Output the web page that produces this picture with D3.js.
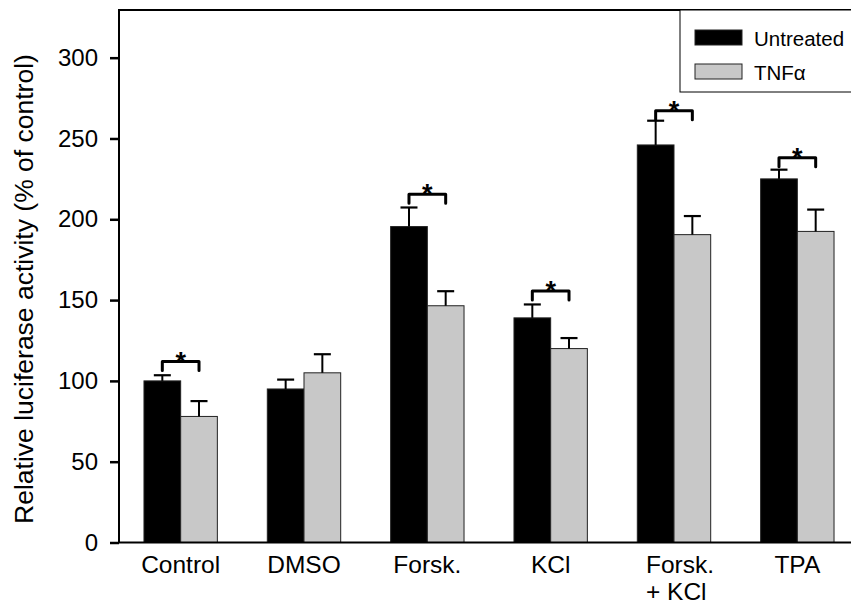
<!DOCTYPE html>
<html>
<head>
<meta charset="utf-8">
<script src="https://cdn.jsdelivr.net/npm/d3@7"></script>
<style>
  html, body { margin: 0; padding: 0; background: #fff; }
  svg { display: block; font-family: "Liberation Sans", Arial, sans-serif; }
</style>
</head>
<body>
<svg id="chart" width="851" height="604"></svg>
<script>
// Treatment groups (label lines) and measured luciferase activity, % of control
const categories = ["Control", "DMSO", "Forsk.", "KCl", "Forsk.|+ KCl", "TPA"];
const seriesNames = ["Untreated", "TNFα"];
const untreated = [100, 95, 195.5, 139, 246, 225];
const untreatedErr = [3.5, 5.8, 11.8, 8.3, 15, 5.7];
const tnf = [78, 105, 146.5, 120, 190.5, 192.5];
const tnfErr = [9.5, 11.5, 9, 6.5, 11.5, 13.5];
// Significance brackets (value level of the bracket line; null = none)
const sigLevel = [112, null, 215.5, 155.6, 267.2, 238.1];
const yTicks = [0, 50, 100, 150, 200, 250, 300];
const yMax = 330;

const svg = d3.select("#chart");
const plotL = 119, plotR = 859, plotT = 9.2, plotB = 542.5;
const colors = ["#000000", "#c8c8c8"];

const x0 = d3.scaleBand().domain(categories).range([plotL, plotR])
  .paddingInner(0.405).paddingOuter(0.2025);
const x1 = d3.scaleBand().domain([0, 1]).range([0, x0.bandwidth()]);
const y = d3.scaleLinear().domain([0, yMax]).range([plotB, plotT]);

const rows = categories.map((c, i) => ({
  cat: c,
  vals: [
    { s: 0, v: untreated[i], e: untreatedErr[i] },
    { s: 1, v: tnf[i], e: tnfErr[i] }
  ],
  sig: sigLevel[i]
}));

// Bars
const groups = svg.append("g").selectAll("g").data(rows).join("g")
  .attr("transform", d => `translate(${x0(d.cat)},0)`);

groups.selectAll("rect").data(d => d.vals).join("rect")
  .attr("x", d => x1(d.s))
  .attr("y", d => y(d.v))
  .attr("width", x1.bandwidth())
  .attr("height", d => y(0) - y(d.v))
  .attr("fill", d => colors[d.s])
  .attr("stroke", "#222")
  .attr("stroke-width", 1);

// Upper error bars
const capW = 17;
groups.selectAll("g.err").data(d => d.vals).join("g").attr("class", "err")
  .each(function (d) {
    const g = d3.select(this);
    const cx = x1(d.s) + x1.bandwidth() / 2;
    g.append("line").attr("x1", cx).attr("x2", cx)
      .attr("y1", y(d.v)).attr("y2", y(d.v + d.e))
      .attr("stroke", "#000").attr("stroke-width", 2);
    g.append("line").attr("x1", cx - capW / 2).attr("x2", cx + capW / 2)
      .attr("y1", y(d.v + d.e)).attr("y2", y(d.v + d.e))
      .attr("stroke", "#000").attr("stroke-width", 2.2);
  });

// Significance brackets with asterisks
groups.filter(d => d.sig != null).each(function (d) {
  const g = d3.select(this);
  const a = x1(0) + x1.bandwidth() / 2;
  const b = x1(1) + x1.bandwidth() / 2;
  const yy = y(d.sig);
  g.append("path")
    .attr("d", `M${a},${yy + 9}V${yy}H${b}V${yy + 9}`)
    .attr("fill", "none").attr("stroke", "#000").attr("stroke-width", 3)
    .attr("stroke-linecap", "round").attr("stroke-linejoin", "round");
  g.append("text")
    .attr("x", (a + b) / 2).attr("y", yy + 9)
    .attr("text-anchor", "middle")
    .attr("font-size", 27).attr("font-weight", "bold")
    .attr("fill", "#000")
    .text("*");
});

// Frame / axes
svg.append("rect")
  .attr("x", plotL).attr("y", plotT + 0.8)
  .attr("width", plotR - plotL).attr("height", plotB - plotT - 0.8)
  .attr("fill", "none").attr("stroke", "#000").attr("stroke-width", 2);

// Y axis ticks and labels
const yAxis = svg.append("g").attr("transform", `translate(${plotL},0)`)
  .call(d3.axisLeft(y).tickValues(yTicks).tickSize(9).tickPadding(12).tickFormat(d3.format("d")));
yAxis.select(".domain").remove();
yAxis.selectAll(".tick line").attr("stroke", "#000").attr("stroke-width", 2.5);
yAxis.selectAll(".tick text")
  .attr("font-size", 24).attr("fill", "#000")
  .attr("font-family", "'Liberation Sans', Arial, sans-serif");

// X category labels (multi-line labels are left-aligned as a block)
const xl = svg.append("g");
categories.forEach(c => {
  const lines = c.split("|");
  const cx = x0(c) + x0.bandwidth() / 2;
  const t = xl.append("text")
    .attr("font-size", 24.5).attr("fill", "#000")
    .attr("text-anchor", lines.length > 1 ? "start" : "middle");
  lines.forEach((ln, k) => {
    t.append("tspan").attr("x", cx).attr("y", 573 + k * 27).text(ln);
  });
  if (lines.length > 1) {
    const w = t.node().getBBox().width;
    t.selectAll("tspan").attr("x", cx - w / 2 + 6);
  }
});

// Y axis title
svg.append("text")
  .attr("transform", "translate(33,289) rotate(-90)")
  .attr("text-anchor", "middle")
  .attr("font-size", 26.5).attr("fill", "#000")
  .text("Relative luciferase activity (% of control)");

// Legend
const lg = svg.append("g");
lg.append("rect").attr("x", 680).attr("y", 10).attr("width", 180).attr("height", 82)
  .attr("fill", "#fff").attr("stroke", "#000").attr("stroke-width", 1);
seriesNames.forEach((n, i) => {
  const yy = 30 + i * 34;
  lg.append("rect").attr("x", 695).attr("y", yy).attr("width", 47).attr("height", 15)
    .attr("fill", colors[i]).attr("stroke", "#222").attr("stroke-width", 1);
  lg.append("text").attr("x", 754).attr("y", yy + 15.5)
    .attr("font-size", 20.5).attr("fill", "#000").text(n);
});
</script>
</body>
</html>
